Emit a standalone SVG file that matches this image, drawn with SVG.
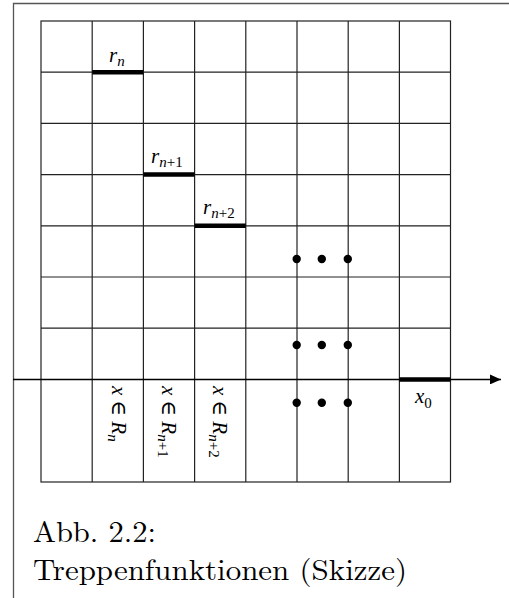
<svg xmlns="http://www.w3.org/2000/svg" width="509" height="598" viewBox="0 0 509 598">
<defs>
<style>
.frame{stroke:#555;stroke-width:1.3;fill:none}
.grid{stroke:#222;stroke-width:1.2;fill:none}
.thick{stroke:#000;stroke-width:4.5}
.axis{stroke:#000;stroke-width:1.5}
.m{font-family:"Liberation Serif","DejaVu Serif",serif;font-style:italic;font-size:21px;fill:#000}
.sub{font-size:15px;font-style:italic}
.subn{font-size:15px;font-style:normal}
.cap{font-family:"Latin Modern Roman","Liberation Serif","DejaVu Serif",serif;font-size:29px;fill:#000}
</style>
<marker id="arr" markerWidth="12" markerHeight="10" refX="11" refY="5" orient="auto" markerUnits="userSpaceOnUse">
<path d="M0,0 L11,5 L0,10 Z" fill="#000"/>
</marker>
</defs>
<g id="frame">
<path class="frame" d="M13.5,598 V3.5 H509"/>
</g>
<g id="grid">
<rect class="grid" x="41" y="21" width="409.5" height="461"/>
<path class="grid" d="M92.2,21V482 M143.4,21V482 M194.6,21V482 M245.8,21V482 M297,21V482 M348.2,21V482 M399.4,21V482"/>
<path class="grid" d="M41,72.2H450.5 M41,123.4H450.5 M41,174.6H450.5 M41,225.8H450.5 M41,277H450.5 M41,328.2H450.5"/>
</g>
<g id="connectors">
<line class="axis" x1="13" y1="379.4" x2="501" y2="379.4" marker-end="url(#arr)"/>
</g>
<g id="steps">
<line class="thick" x1="92.2" y1="72.2" x2="143.4" y2="72.2"/>
<line class="thick" x1="143.4" y1="174.6" x2="194.6" y2="174.6"/>
<line class="thick" x1="194.6" y1="225.8" x2="245.8" y2="225.8"/>
<line class="thick" x1="399.4" y1="379.4" x2="450.5" y2="379.4"/>
</g>
<g id="labels">
<text class="m" x="109" y="62">r<tspan class="sub" dy="3.5">n</tspan></text>
<text class="m" x="151" y="163">r<tspan class="sub" dy="3.5">n</tspan><tspan class="subn">+1</tspan></text>
<text class="m" x="203" y="214">r<tspan class="sub" dy="3.5">n</tspan><tspan class="subn">+2</tspan></text>
<text class="m" x="415" y="403">x<tspan class="subn" dy="5">0</tspan></text>
<text class="m" transform="translate(112,386) rotate(90)">x ∈ R<tspan class="sub" dy="4">n</tspan></text>
<text class="m" transform="translate(162,386) rotate(90)">x ∈ R<tspan class="sub" dy="4">n</tspan><tspan class="subn">+1</tspan></text>
<text class="m" transform="translate(213,386) rotate(90)">x ∈ R<tspan class="sub" dy="4">n</tspan><tspan class="subn">+2</tspan></text>
</g>
<g id="dots" fill="#000">
<circle cx="296.7" cy="259" r="4.2"/><circle cx="321.8" cy="259" r="4.2"/><circle cx="347.8" cy="259" r="4.2"/>
<circle cx="296.7" cy="345" r="4.2"/><circle cx="321.8" cy="345" r="4.2"/><circle cx="347.8" cy="345" r="4.2"/>
<circle cx="296.7" cy="402.7" r="4.2"/><circle cx="321.8" cy="402.7" r="4.2"/><circle cx="347.8" cy="402.7" r="4.2"/>
</g>
<g id="caption">
<text class="cap" x="33" y="542" textLength="123" lengthAdjust="spacingAndGlyphs">Abb. 2.2:</text>
<text class="cap" x="33" y="580" textLength="374" lengthAdjust="spacingAndGlyphs">Treppenfunktionen (Skizze)</text>
</g>
</svg>
